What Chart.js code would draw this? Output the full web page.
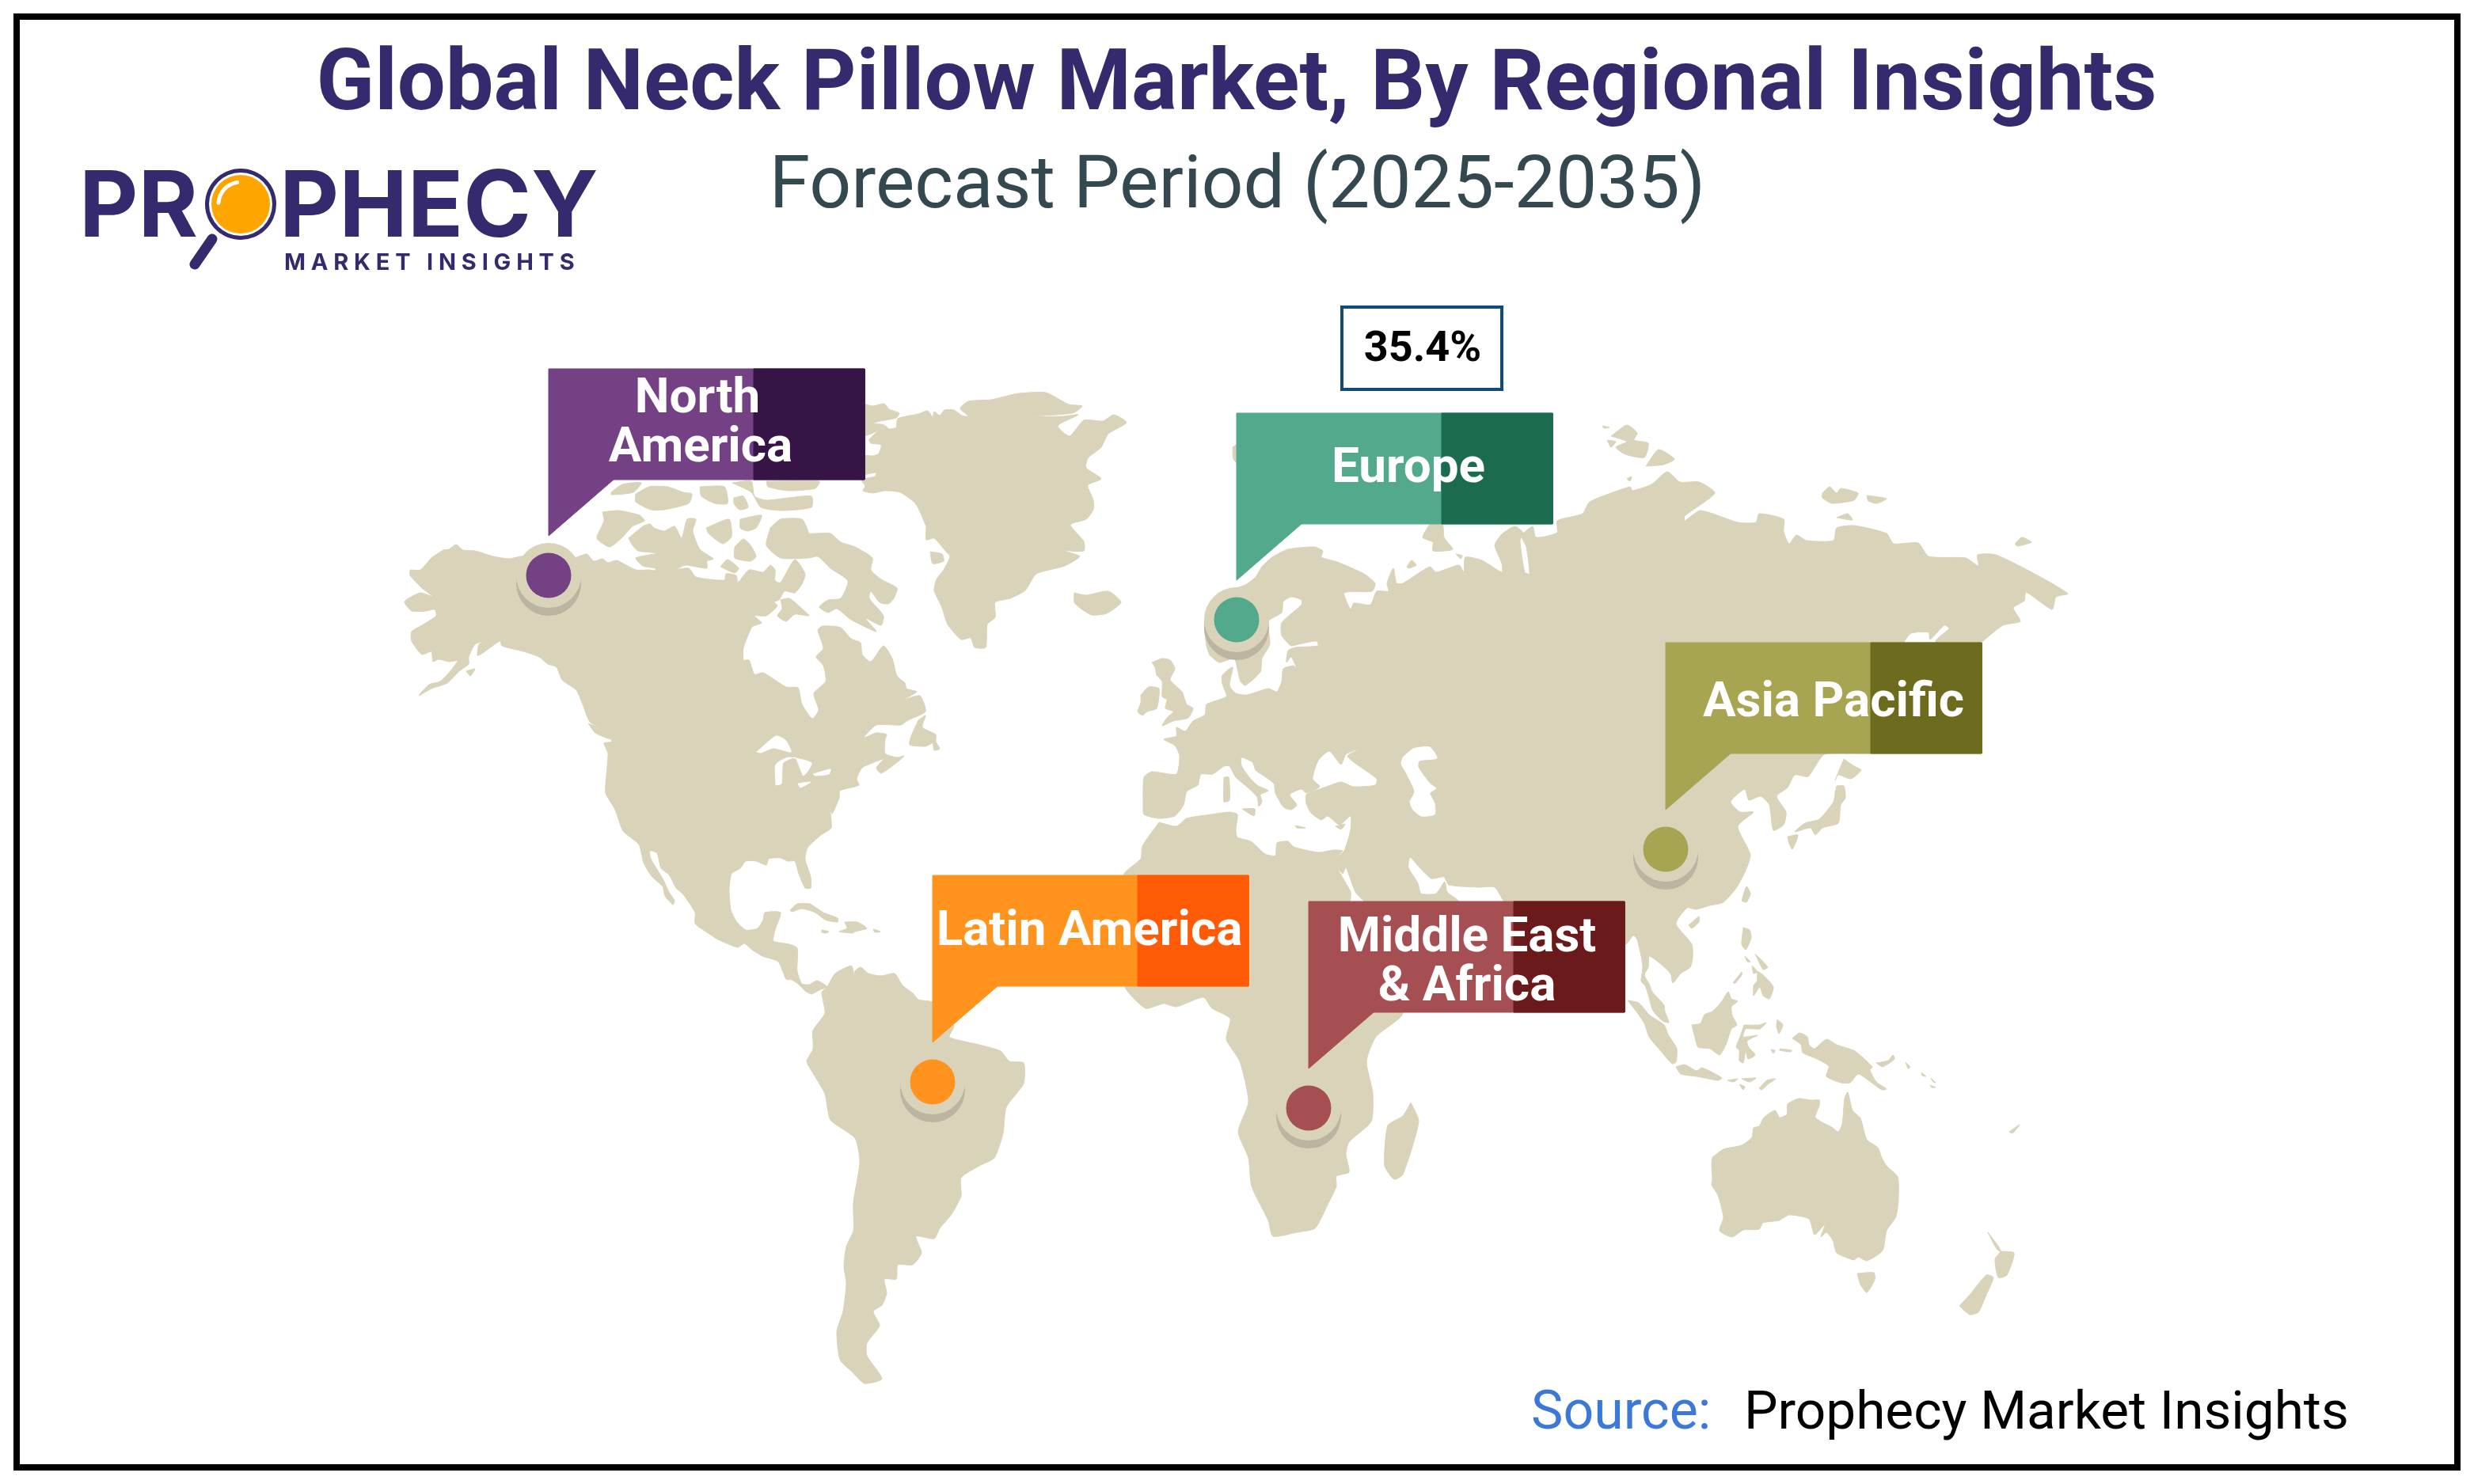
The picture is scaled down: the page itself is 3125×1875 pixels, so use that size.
<!DOCTYPE html>
<html lang="en">
<head>
  <meta charset="UTF-8">
  <title>Global Neck Pillow Market, By Regional Insights</title>
  <script src="https://cdn.jsdelivr.net/npm/chart.js"></script>
  <style>
    html, body { margin: 0; padding: 0; background: #fff; }
    canvas { display: block; }
  </style>
</head>
<body>
  <canvas id="mapChart" width="3125" height="1875"></canvas>

  <script>
    // Regions
    const regionNames = [['North', 'America'], ['Europe'], ['Asia Pacific'], ['Latin America'], ['Middle East', '& Africa']];
    const regionShare = ['', '35.4%', '', '', ''];
    const markerX = [693, 1562, 2104, 1178, 1653];
    const markerY = [727, 783, 1073, 1367, 1400];
    const calloutTop = [466, 522, 812, 1106, 1139];
    const lightColors = ['#744284', '#53a98b', '#a7a552', '#ff931e', '#a54f53'];
    const darkColors = ['#371446', '#1b6c4e', '#6d6b1d', '#ff5a05', '#6b1a1b'];

    // Land outlines, flat x,y lists in map units
    const northAmerica = [518,720,531,720,545,705,560,695,567,694,576,688,585,695,600,696,623,703,643,706,658,703,678,703,725,705,741,700,750,709,761,706,768,711,779,708,803,720,821,720,826,721,852,720,870,718,879,729,915,733,917,725,930,727,932,736,946,720,964,723,973,714,979,720,979,734,986,736,1004,707,1017,725,1013,738,1004,749,991,747,984,758,973,761,967,755,982,765,968,778,953,778,962,787,950,792,939,819,939,834,946,834,953,852,964,850,993,868,1008,869,1013,890,1026,908,1034,897,1028,876,1043,861,1040,841,1031,830,1040,819,1033,796,1039,791,1062,793,1075,807,1087,812,1089,827,1100,836,1116,816,1127,832,1133,854,1143,863,1145,870,1158,874,1142,884,1162,879,1169,899,1147,910,1138,916,1107,916,1091,932,1107,926,1120,928,1118,934,1118,952,1133,957,1142,955,1136,961,1113,977,1107,970,1116,959,1102,964,1089,970,1082,984,1085,992,1061,999,1060,1008,1051,1028,1048,1019,1050,1046,1037,1055,1020,1071,1017,1086,1024,1108,1024,1122,1017,1122,1009,1104,1004,1088,995,1088,986,1084,971,1085,968,1093,955,1088,942,1088,935,1097,924,1104,921,1124,923,1149,930,1164,942,1175,957,1173,964,1162,966,1153,986,1153,979,1175,977,1189,997,1193,1007,1198,1007,1227,1013,1243,1022,1244,1032,1239,1040,1243,1045,1247,1037,1250,1025,1256,1017,1252,1008,1243,1000,1238,993,1237,983,1215,963,1208,950,1200,940,1192,932,1197,907,1187,893,1178,878,1167,878,1153,863,1130,854,1122,845,1105,835,1097,830,1078,821,1075,822,1085,837,1110,845,1127,852,1138,850,1143,840,1132,837,1120,823,1107,813,1090,807,1067,787,1050,777,1023,765,1002,766,980,768,952,763,939,773,937,763,923,745,912,736,890,728,872,710,859,703,843,692,839,681,830,661,823,634,816,632,810,625,814,607,827,603,828,605,814,612,810,600,814,592,830,592,839,580,848,565,863,545,870,529,879,542,865,556,861,567,850,578,835,567,836,554,833,547,836,545,823,533,827,520,810,520,798,533,790,551,778,549,770,538,772,520,772,511,760,531,749,547,754,533,743,518,727];
    const greenland = [1170,665,1157,637,1137,622,1117,620,1103,623,1090,620,1093,614,1088,607,1091,605,1105,602,1107,597,1091,600,1088,600,1088,576,1103,576,1110,573,1113,562,1100,560,1098,555,1118,538,1123,542,1132,540,1134,529,1160,523,1172,519,1178,527,1180,520,1187,525,1193,518,1205,518,1215,525,1223,526,1213,516,1223,507,1252,505,1273,500,1287,497,1321,496,1350,511,1367,513,1355,522,1302,526,1343,526,1362,524,1336,538,1351,551,1369,531,1393,532,1407,524,1423,534,1400,548,1391,565,1374,579,1372,591,1391,605,1374,613,1381,632,1381,644,1372,656,1352,663,1369,684,1369,696,1345,696,1364,703,1345,715,1309,725,1295,746,1276,756,1257,761,1257,780,1247,789,1245,818,1231,818,1226,806,1214,808,1197,789,1190,768,1180,746,1183,732,1192,720,1200,703,1195,697,1180,680,1170,682];
    const baffin = [973,667,986,656,1013,656,1020,669,1022,674,1049,674,1062,685,1080,691,1102,705,1100,720,1113,732,1133,743,1129,756,1122,763,1111,761,1100,747,1098,756,1116,778,1113,790,1093,781,1107,798,1075,783,1057,769,1046,774,1035,767,1046,758,1062,756,1071,734,1049,718,1033,703,1022,705,986,705,968,689];
    const victoria = [794,680,812,665,821,662,826,667,839,671,852,665,861,680,868,656,879,656,875,671,884,694,901,706,893,709,893,718,866,714,852,720,828,721,828,718,812,715,803,705,830,699,806,696,799,689];
    const banks = [761,647,781,645,808,651,814,658,799,665,785,680,770,691,754,680,763,658];
    const arcticA = [928,691,939,681,948,689,955,703,948,709,928,705];
    const arcticB = [910,716,919,707,933,718,928,724,912,717];
    const southampton = [986,758,997,756,1013,769,1022,778,1004,776,993,785,982,778,988,769];
    const arcticC = [892,667,921,656,924,678,913,687,895,674];
    const arcticD = [935,656,962,651,955,667,944,671,935,667];
    const arcticE = [772,622,786,612,810,610,800,622,772,625];
    const arcticF = [803,624,820,615,843,615,863,622,874,624,870,636,839,644,822,644,803,634];
    const arcticG = [884,615,915,615,919,636,903,636,886,627];
    const arcticH = [927,629,939,627,945,641,934,644,927,636];
    const arcticI = [925,610,949,608,953,627,968,632,996,629,1025,627,1025,641,987,645,961,641,949,622];
    const arcticJ = [968,608,1035,608,1030,617,996,620,970,615];
    const ellesmere = [1088,509,1102,513,1117,510,1123,517,1136,522,1132,528,1112,532,1103,535,1117,537,1107,545,1088,551];
    const disko = [1175,697,1190,700,1192,709,1178,712];
    const newfoundland = [1160,910,1169,904,1165,919,1182,928,1182,937,1187,946,1180,948,1178,939,1169,943,1149,941,1151,930];
    const vancouver = [743,914,763,923,772,934,752,926];
    const kodiak = [589,848,600,845,594,854];
    const cuba = [998,1150,1007,1142,1023,1142,1040,1153,1058,1160,1058,1165,1042,1162,1030,1153,1013,1148,1000,1152];
    const hispaniola = [1067,1165,1083,1165,1095,1173,1080,1177,1077,1179,1060,1177,1070,1173];
    const jamaica = [1038,1175,1047,1177,1043,1179,1038,1178];
    const puertoRico = [1103,1174,1112,1177,1105,1178];
    const iceland = [1357,749,1372,752,1400,747,1416,761,1398,775,1379,777,1364,768,1357,761];
    const southAmerica = [1045,1247,1055,1230,1075,1220,1078,1227,1078,1242,1080,1227,1087,1222,1097,1230,1113,1233,1130,1230,1140,1245,1153,1255,1160,1263,1178,1266,1200,1285,1205,1297,1199,1310,1214,1315,1237,1320,1264,1328,1275,1341,1293,1343,1293,1369,1271,1399,1267,1432,1256,1463,1237,1473,1214,1488,1214,1511,1202,1534,1187,1552,1180,1565,1157,1562,1164,1583,1153,1598,1134,1598,1132,1616,1117,1616,1120,1634,1114,1649,1103,1657,1111,1675,1095,1697,1095,1713,1114,1742,1092,1748,1076,1733,1061,1718,1057,1682,1065,1657,1069,1621,1066,1601,1069,1575,1078,1555,1078,1519,1086,1468,1080,1438,1049,1415,1042,1382,1027,1356,1019,1341,1027,1325,1027,1302,1042,1280,1038,1254];
    const eurasia = [1528,828,1524,816,1522,783,1544,750,1573,739,1586,729,1594,716,1607,704,1627,694,1660,691,1671,696,1669,704,1689,710,1723,725,1737,737,1733,747,1698,749,1706,770,1710,762,1731,764,1739,747,1754,747,1752,737,1760,718,1764,737,1772,737,1806,716,1814,723,1843,714,1849,723,1851,704,1872,708,1897,723,1897,712,1888,689,1897,675,1913,665,1924,673,1920,683,1926,723,1932,725,1928,691,1922,677,1936,665,1940,679,1967,673,1967,658,1999,649,2008,634,2059,615,2062,620,2086,612,2106,596,2122,609,2146,609,2166,623,2128,652,2128,658,2148,645,2195,660,2218,660,2222,649,2253,656,2253,672,2260,687,2269,676,2282,683,2316,683,2320,667,2342,664,2383,674,2392,687,2423,686,2436,703,2483,705,2499,715,2498,701,2521,701,2570,725,2612,750,2597,754,2592,770,2559,748,2557,759,2543,768,2552,785,2530,790,2503,812,2490,830,2450,830,2445,810,2462,794,2456,790,2438,808,2436,799,2414,800,2405,812,2405,830,2396,946,2305,953,2284,981,2267,979,2258,995,2244,1006,2256,1026,2253,1042,2240,1049,2235,1017,2224,1006,2209,1011,2204,997,2186,1013,2198,1026,2215,1026,2195,1044,2211,1080,2204,1102,2193,1122,2177,1140,2160,1144,2142,1149,2131,1147,2117,1167,2137,1193,2138,1210,2135,1222,2123,1230,2113,1242,2110,1230,2100,1220,2090,1212,2083,1208,2082,1222,2077,1232,2083,1243,2087,1253,2102,1270,2103,1278,2108,1292,2100,1290,2088,1277,2082,1257,2078,1245,2073,1240,2075,1220,2068,1187,2063,1182,2055,1192,2040,1200,1950,1200,1903,1145,1888,1121,1868,1121,1830,1118,1824,1108,1808,1110,1793,1096,1781,1083,1779,1096,1791,1116,1795,1129,1814,1129,1825,1114,1828,1127,1843,1139,1843,1150,1730,1150,1723,1139,1712,1127,1700,1096,1696,1104,1685,1087,1698,1075,1706,1048,1706,1031,1692,1042,1677,1031,1669,1036,1656,1027,1650,1015,1650,1004,1667,997,1681,992,1694,988,1710,994,1737,992,1739,984,1710,963,1702,955,1719,945,1700,953,1694,966,1679,949,1665,961,1658,984,1667,994,1650,1002,1644,997,1629,1004,1638,1017,1631,1023,1623,1021,1619,1017,1611,1002,1609,990,1596,980,1586,973,1582,963,1568,957,1568,967,1578,982,1588,992,1602,999,1592,1004,1594,1013,1590,1019,1588,1007,1575,994,1561,982,1553,968,1546,968,1532,978,1517,978,1515,984,1513,992,1499,1000,1495,1017,1484,1031,1464,1034,1445,1029,1444,1015,1445,982,1455,975,1486,978,1490,955,1484,942,1470,934,1486,930,1486,919,1497,924,1507,911,1522,903,1524,890,1549,880,1544,864,1544,853,1557,843,1553,866,1561,876,1575,878,1602,870,1613,874,1619,861,1621,845,1634,841,1638,845,1631,830,1625,837,1627,822,1636,818,1665,816,1663,810,1640,814,1631,816,1619,803,1619,787,1644,764,1644,758,1631,754,1621,760,1619,774,1602,785,1604,814,1594,832,1592,849,1573,866,1567,861,1563,845,1559,832,1540,837];
    const africa = [1464,1039,1486,1044,1499,1034,1530,1029,1553,1026,1563,1029,1561,1048,1563,1058,1580,1063,1598,1079,1611,1081,1613,1065,1627,1063,1634,1070,1665,1077,1685,1074,1696,1075,1685,1087,1706,1127,1706,1139,1740,1230,1772,1280,1738,1310,1726,1341,1734,1381,1732,1417,1704,1443,1700,1458,1704,1481,1688,1486,1688,1499,1677,1522,1661,1552,1638,1557,1608,1562,1602,1542,1581,1499,1577,1463,1564,1430,1577,1392,1566,1341,1549,1313,1554,1287,1531,1274,1520,1260,1486,1272,1470,1268,1447,1274,1422,1249,1400,1180,1420,1104,1441,1085,1443,1069];
    const madagascar = [1782,1393,1792,1417,1772,1484,1761,1490,1749,1473,1753,1422,1772,1410];
    const britain = [1455,837,1468,832,1478,834,1484,845,1478,859,1493,874,1499,890,1507,895,1501,907,1482,911,1468,917,1474,907,1482,899,1472,895,1474,884,1468,880,1468,861,1461,853,1459,843];
    const ireland = [1441,878,1451,868,1464,870,1461,895,1449,899,1443,904,1437,899,1441,888];
    const sardinia = [1546,982,1552,982,1553,1011,1546,1013];
    const sicily = [1569,1022,1585,1022,1584,1031];
    const crete = [1636,1043,1649,1046,1638,1046];
    const cyprus = [1687,1044,1699,1041,1694,1048];
    const novayaZemlya = [1806,662,1822,662,1824,679,1835,694,1810,696,1810,685,1797,679];
    const kolguev = [1777,716,1783,708,1789,714,1779,718];
    const vaigach = [1839,700,1847,702,1845,706];
    const svalbard = [1557,565,1566,560,1566,588,1558,580];
    const severnayaA = [2035,551,2055,537,2068,547,2064,556,2082,560,2077,578,2053,574,2041,565,2055,558];
    const severnayaB = [2030,556,2041,558,2035,565];
    const severnayaC = [2079,589,2095,568,2115,580,2102,587];
    const severnayaD = [2024,538,2033,540,2026,541];
    const severnayaE = [2055,605,2061,602,2059,608];
    const siberiaA = [2302,623,2311,615,2320,623,2325,617,2347,623,2342,632,2314,636,2302,629];
    const siberiaB = [2358,626,2383,630,2371,636,2360,633];
    const siberiaC = [2320,654,2334,649,2340,657];
    const wrangel = [2545,687,2554,679,2566,685,2548,690];
    const hokkaido = [2329,959,2342,968,2351,973,2338,984,2322,979,2318,986];
    const honshu = [2320,993,2329,993,2331,1008,2325,1017,2322,1040,2302,1046,2293,1055,2287,1046,2267,1051,2280,1040,2298,1035,2316,1013,2318,1002];
    const kyushu = [2258,1057,2271,1055,2264,1073,2260,1066];
    const taiwan = [2200,1138,2206,1120,2211,1129,2206,1140];
    const hainan = [2133,1169,2146,1158,2146,1165,2137,1173];
    const sumatra = [2056,1264,2070,1267,2083,1282,2102,1295,2107,1307,2118,1325,2117,1342,2112,1344,2097,1327,2083,1310,2077,1293,2067,1278];
    const java = [2117,1348,2128,1345,2143,1353,2150,1349,2175,1362,2170,1365,2143,1360,2123,1357];
    const borneo = [2137,1295,2148,1293,2153,1282,2163,1278,2175,1265,2183,1253,2187,1262,2195,1265,2187,1272,2188,1283,2194,1295,2187,1300,2180,1320,2172,1333,2160,1325,2145,1323,2140,1307];
    const sulawesi = [2203,1295,2222,1295,2231,1292,2223,1300,2205,1300,2202,1310,2220,1308,2207,1315,2208,1322,2217,1333,2208,1338,2205,1327,2202,1343,2197,1340,2197,1327,2193,1323,2198,1310];
    const newGuinea = [2264,1312,2273,1305,2283,1310,2285,1320,2292,1325,2307,1313,2320,1320,2343,1328,2365,1348,2362,1352,2370,1367,2383,1376,2377,1377,2363,1367,2347,1357,2337,1368,2325,1368,2307,1360,2310,1347,2293,1337,2277,1330,2275,1320];
    const newBritain = [2370,1343,2385,1340,2391,1333,2393,1338,2378,1348];
    const luzon = [2202,1172,2210,1175,2212,1185,2205,1200,2200,1193];
    const visayasA = [2204,1208,2211,1215,2207,1215];
    const visayasB = [2213,1220,2220,1228,2215,1230];
    const visayasC = [2217,1205,2233,1222,2227,1225];
    const visayasD = [2220,1227,2228,1233,2220,1239];
    const mindanao = [2215,1245,2227,1233,2240,1247,2235,1262,2227,1258,2223,1247,2215,1258];
    const palawan = [2189,1242,2200,1228,2200,1232,2192,1242];
    const timor = [2222,1375,2232,1365,2243,1363,2233,1370,2225,1377];
    const sundaA = [2182,1365,2195,1363,2190,1367];
    const sundaB = [2200,1363,2218,1362,2210,1367];
    const sundaC = [2197,1370,2204,1373,2202,1377];
    const malukuA = [2245,1288,2252,1295,2247,1306,2244,1297];
    const malukuB = [2248,1325,2263,1327,2262,1329,2248,1327];
    const malukuC = [2237,1326,2242,1327,2240,1331];
    const solomonA = [2407,1342,2413,1348,2410,1350];
    const solomonB = [2427,1355,2433,1360,2428,1359];
    const solomonC = [2439,1362,2445,1368,2442,1367];
    const solomonD = [2438,1371,2445,1374,2440,1374];
    const australia = [2163,1462,2177,1452,2200,1447,2213,1437,2215,1425,2222,1423,2228,1412,2242,1403,2248,1412,2257,1408,2258,1395,2272,1388,2287,1390,2298,1390,2298,1397,2293,1412,2315,1425,2322,1430,2327,1420,2330,1388,2334,1380,2340,1403,2350,1413,2358,1440,2372,1450,2377,1463,2383,1473,2397,1487,2398,1513,2395,1537,2383,1555,2378,1580,2358,1593,2347,1588,2342,1592,2320,1583,2315,1567,2307,1557,2300,1563,2305,1547,2292,1560,2285,1540,2260,1535,2247,1542,2227,1545,2222,1553,2202,1554,2188,1563,2172,1555,2177,1538,2170,1510,2162,1497,2163,1490,2162,1470];
    const tasmania = [2346,1609,2367,1608,2368,1617,2358,1633,2350,1623];
    const nzSouth = [2475,1650,2488,1636,2509,1611,2518,1614,2509,1636,2499,1658,2488,1661];
    const nzNorth = [2511,1557,2524,1580,2544,1583,2535,1611,2524,1614,2520,1591,2527,1580];
    const fiji = [2538,1430,2551,1421,2542,1432];

    // Inland water, painted over the land
    const caspian = [1772,957,1785,946,1806,944,1815,958,1793,961,1791,969,1806,990,1814,996,1806,1002,1812,1015,1812,1029,1795,1031,1785,1023,1781,1013,1787,1000,1777,978,1770,965];
    const superior = [956,950,980,930,992,935,999,950,977,945,961,951];
    const michiganHuron = [980,992,980,966,996,957,1025,964,1015,980,1008,964,1004,957,989,964,987,990];
    const erie = [1008,990,1024,988,1011,995];
    const ontario = [1027,978,1049,972,1047,978,1030,980];

    const landShapes = [northAmerica, greenland, baffin, victoria, banks, arcticA, arcticB, southampton, arcticC, arcticD, arcticE, arcticF, arcticG, arcticH, arcticI, arcticJ, ellesmere, disko, newfoundland, vancouver, kodiak, cuba, hispaniola, jamaica, puertoRico, iceland, southAmerica, eurasia, africa, madagascar, britain, ireland, sardinia, sicily, crete, cyprus, novayaZemlya, kolguev, vaigach, svalbard, severnayaA, severnayaB, severnayaC, severnayaD, severnayaE, siberiaA, siberiaB, siberiaC, wrangel, hokkaido, honshu, kyushu, taiwan, hainan, sumatra, java, borneo, sulawesi, newGuinea, newBritain, luzon, visayasA, visayasB, visayasC, visayasD, mindanao, palawan, timor, sundaA, sundaB, sundaC, malukuA, malukuB, malukuC, solomonA, solomonB, solomonC, solomonD, australia, tasmania, nzSouth, nzNorth, fiji];
    const waterShapes = [caspian, superior, michiganHuron, erie, ontario];

    const LAND = '#d9d3ba';
    const SHADOW = '#bab4a0';

    function toPoints(flat) {
      const pts = [];
      for (let i = 0; i < flat.length; i += 2) pts.push({ x: flat[i], y: flat[i + 1] });
      pts.push({ x: flat[0], y: flat[1] });
      return pts;
    }

    function polygon(flat, color, order, tension) {
      return {
        data: toPoints(flat),
        showLine: true,
        fill: 'shape',
        tension: tension,
        backgroundColor: color,
        borderColor: color,
        borderWidth: 1,
        pointRadius: 0,
        order: order
      };
    }

    const datasets = [];
    landShapes.forEach(s => datasets.push(polygon(s, LAND, 60, 0.2)));
    waterShapes.forEach(s => datasets.push(polygon(s, '#ffffff', 50, 0.2)));

    // marker shadow, halo, dot
    datasets.push({ data: markerX.map((x, i) => ({ x: x, y: markerY[i] + 10 })), pointRadius: 41, pointBackgroundColor: SHADOW, pointBorderWidth: 0, order: 40 });
    datasets.push({ data: markerX.map((x, i) => ({ x: x, y: markerY[i] })), pointRadius: 41, pointBackgroundColor: LAND, pointBorderWidth: 0, order: 30 });
    datasets.push({ data: markerX.map((x, i) => ({ x: x, y: markerY[i] })), pointRadius: 28.5, pointBackgroundColor: lightColors, pointBorderWidth: 0, order: 20 });

    // callouts: speech bubble with a darker right end
    markerX.forEach((x, i) => {
      const t = calloutTop[i];
      const b = t + 140;
      datasets.push(polygon([x, t, x + 399, t, x + 399, b, x + 82, b, x, b + 71], lightColors[i], 10, 0));
      datasets.push(polygon([x + 259, t, x + 399, t, x + 399, b, x + 259, b], darkColors[i], 5, 0));
    });

    // all the writing, placed through the scales
    const textLayer = {
      id: 'textLayer',
      afterDatasetsDraw(chart) {
        const { ctx, scales } = chart;
        const px = v => scales.x.getPixelForValue(v);
        const py = v => scales.y.getPixelForValue(v);
        const put = (str, x, y, font, color, align, spacing) => {
          ctx.font = font;
          ctx.fillStyle = color;
          ctx.textAlign = align || 'center';
          ctx.textBaseline = 'alphabetic';
          ctx.letterSpacing = spacing || '0px';
          ctx.fillText(str, px(x), py(y));
          ctx.letterSpacing = '0px';
        };
        ctx.save();

        // frame
        ctx.strokeStyle = '#000';
        ctx.lineWidth = 8;
        ctx.strokeRect(px(21), py(21), px(3104) - px(21), py(1854) - py(21));

        put('Global Neck Pillow Market, By Regional Insights', 1562, 138, 'bold 108px Roboto', '#352a6e');
        put('Forecast Period (2025-2035)', 1563, 262, '93px Roboto', '#34494f');

        // logo
        put('PR', 100, 299, 'bold 115px Inter', '#352a6e', 'left');
        put('PHECY', 353, 299, 'bold 116px Inter', '#352a6e', 'left');
        ctx.strokeStyle = '#352a6e';
        ctx.lineCap = 'round';
        ctx.lineWidth = 13;
        ctx.beginPath();
        ctx.moveTo(px(268), py(302));
        ctx.lineTo(px(246), py(334));
        ctx.stroke();
        ctx.fillStyle = '#352a6e';
        ctx.beginPath();
        ctx.arc(px(304), py(258), 45, 0, Math.PI * 2);
        ctx.fill();
        ctx.fillStyle = '#fff';
        ctx.beginPath();
        ctx.arc(px(304), py(258), 40, 0, Math.PI * 2);
        ctx.fill();
        ctx.fillStyle = '#ffa500';
        ctx.beginPath();
        ctx.arc(px(304), py(258), 37, 0, Math.PI * 2);
        ctx.fill();
        ctx.strokeStyle = '#fff';
        ctx.lineWidth = 5;
        ctx.beginPath();
        ctx.arc(px(304), py(258), 28, Math.PI * 1.02, Math.PI * 1.45);
        ctx.stroke();
        put('MARKET INSIGHTS', 359, 341, 'bold 29px Inter', '#352a6e', 'left', '6.8px');

        // callout labels
        const centerX = [885, 1779, 2316, 1376, 1853];
        const firstBase = [521, 609, 905, 1194, 1202];
        regionNames.forEach((lines, i) => {
          lines.forEach((line, k) => {
            const shift = i === 0 && k === 0 ? -4 : 0;
            put(line, centerX[i] + shift, firstBase[i] + k * 62, 'bold 62px Roboto', '#fff');
          });
        });

        // share box
        regionShare.forEach((share, i) => {
          if (!share) return;
          ctx.strokeStyle = '#134a7c';
          ctx.lineWidth = 4;
          ctx.strokeRect(px(1695), py(388), 202, 104);
          put(share, 1797, 456, 'bold 54px Roboto', '#000');
        });

        put('Source:', 1934, 1805, '68px Roboto', '#3c78d8', 'left');
        put('Prophecy Market Insights', 2203, 1805, '67.5px Roboto', '#000', 'left');
        ctx.restore();
      }
    };

    new Chart(document.getElementById('mapChart'), {
      type: 'scatter',
      data: { datasets },
      options: {
        responsive: false,
        animation: false,
        devicePixelRatio: 1,
        layout: { padding: 0, autoPadding: false },
        plugins: { legend: { display: false }, tooltip: { enabled: false } },
        scales: {
          x: { type: 'linear', min: 0, max: 3125, display: false },
          y: { type: 'linear', min: 0, max: 1875, reverse: true, display: false }
        }
      },
      plugins: [textLayer]
    });
  </script>
</body>
</html>
